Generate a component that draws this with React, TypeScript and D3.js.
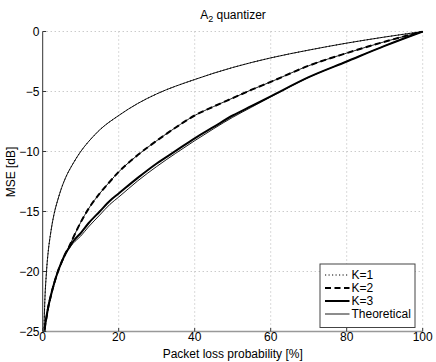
import React from "react";
import * as d3 from "d3";

// ---- data ----
const xTicks = [0, 20, 40, 60, 80, 100];
const yTicks = [-25, -20, -15, -10, -5, 0];

const pK1 = [0.32, 0.5, 1, 1.5, 2, 3, 4, 5, 6, 8, 10, 12, 15, 20, 25, 30, 40, 50, 60, 70, 80, 90, 100];
const k1Sim = [-25, -23, -20, -18.2, -17, -15.2, -14, -13, -12.2, -11, -10, -9.2, -8.2, -7, -6, -5.2, -4, -3, -2.2, -1.55, -0.97, -0.46, 0];
const k1Theory = [-25, -23, -20, -18.2, -17, -15.2, -14, -13, -12.2, -11, -10, -9.2, -8.2, -7, -6, -5.2, -4, -3, -2.2, -1.55, -0.97, -0.46, 0];

const pK = [0.4, 0.5, 1, 1.5, 2, 3, 4, 5, 6, 7, 8, 10, 12, 15, 17.7, 20, 25, 30, 35, 40, 45, 50, 55, 60, 70, 80, 90, 100];
const k2Sim = [-25.6, -25, -23.8, -22.9, -22.2, -21.0, -20.0, -19.2, -18.5, -17.9, -17.2, -15.9, -14.8, -13.5, -12.5, -11.7, -10.3, -9.1, -8.0, -7.0, -6.25, -5.55, -4.85, -4.2, -2.85, -1.8, -0.85, 0];
const k2Theory = [-25.6, -25, -23.8, -22.9, -22.2, -21.0, -20.0, -19.2, -18.5, -17.9, -17.2, -15.9, -14.8, -13.5, -12.5, -11.7, -10.3, -9.1, -8.0, -7.0, -6.25, -5.55, -4.85, -4.2, -2.85, -1.8, -0.85, 0];
const k3Sim = [-25.6, -25, -23.8, -22.9, -22.2, -21.0, -20.0, -19.2, -18.5, -18.0, -17.5, -16.8, -16.0, -15.0, -14.1, -13.5, -12.2, -11.0, -9.95, -8.9, -7.95, -7.0, -6.2, -5.4, -3.8, -2.5, -1.2, 0];
const k3Theory = [-25.6, -25, -23.8, -22.9, -22.2, -21.0, -20.0, -19.2, -18.5, -18.05, -17.65, -17.05, -16.3, -15.3, -14.4, -13.8, -12.45, -11.25, -10.15, -9.1, -8.1, -7.15, -6.3, -5.45, -3.82, -2.5, -1.2, 0];

const legendLabels = ["K=1", "K=2", "K=3", "Theoretical"];

// ---- layout ----
const W = 436, H = 362;
const L = 42.7, T = 31.5, PW = 380, PH = 300;
const FONT = "'Liberation Sans', Arial, Helvetica, sans-serif";

export default function App() {
  const x = d3.scaleLinear().domain([0, 100]).range([L, L + PW]);
  const y = d3.scaleLinear().domain([-25, 0]).range([T + PH, T]);
  const line = (ps: number[], vs: number[]) =>
    d3.line<number>().x((_, i) => x(ps[i])).y((v) => y(v)).curve(d3.curveMonotoneX)(vs) || "";

  const styles = [
    { dash: "1.2,2.3", w: 1 },
    { dash: "6,3.5", w: 2 },
    { dash: "", w: 2 },
    { dash: "", w: 0.9 },
  ];

  const lx0 = 325, lx1 = 349.5, ltx = 351.5;
  const rows = [275, 288, 301, 314];

  return (
    <svg width={W} height={H} style={{ position: "absolute", left: 0, top: 0, background: "#fff" }}
      fontFamily={FONT}>
      <defs>
        <clipPath id="plot">
          <rect x={L} y={T - 1} width={PW + 1} height={PH + 1} />
        </clipPath>
      </defs>
      <rect x={0} y={0} width={W} height={H} fill="#fff" />
      {/* grid */}
      {xTicks.filter((t) => t !== 0).map((t) => (
        <line key={"gx" + t} x1={x(t)} x2={x(t)} y1={T} y2={T + PH} stroke="#b4b4b4" strokeWidth={1} strokeDasharray="1,3" />
      ))}
      {yTicks.filter((t) => t !== -25).map((t) => (
        <line key={"gy" + t} x1={L} x2={L + PW} y1={y(t)} y2={y(t)} stroke="#b4b4b4" strokeWidth={1} strokeDasharray="1,3" />
      ))}
      {/* curves */}
      <g clipPath="url(#plot)" fill="none" stroke="#000" strokeLinejoin="round">
        <path d={line(pK1, k1Theory)} strokeWidth={styles[3].w} />
        <path d={line(pK1, k1Sim)} strokeWidth={styles[0].w} strokeDasharray={styles[0].dash} />
        <path d={line(pK, k2Theory)} strokeWidth={styles[3].w} />
        <path d={line(pK, k2Sim)} strokeWidth={styles[1].w} strokeDasharray={styles[1].dash} />
        <path d={line(pK, k3Sim)} strokeWidth={styles[2].w} />
        <path d={line(pK, k3Theory)} strokeWidth={styles[3].w} />
      </g>
      {/* axes */}
      <line x1={L} x2={L} y1={T} y2={T + PH} stroke="#333" strokeWidth={1} />
      <line x1={L} x2={L + PW} y1={T + PH} y2={T + PH} stroke="#999" strokeWidth={1.6} />
      {xTicks.map((t) => (
        <g key={"xt" + t}>
          <line x1={x(t)} x2={x(t)} y1={T + PH} y2={T + PH - 3.5} stroke="#333" />
          <text x={x(t)} y={341} textAnchor="middle" fontSize={12} fill="#000">{t}</text>
        </g>
      ))}
      {yTicks.map((t) => (
        <g key={"yt" + t}>
          <line x1={L} x2={L + 3.5} y1={y(t)} y2={y(t)} stroke="#333" />
          <text x={39.5} y={y(t) + 4.3} textAnchor="end" fontSize={12} fill="#000">
            {t < 0 ? "\u2212" + Math.abs(t) : String(t)}
          </text>
        </g>
      ))}
      {/* labels */}
      <text x={232.7} y={358} textAnchor="middle" fontSize={12}>Packet loss probability [%]</text>
      <text transform={`translate(15,${172}) rotate(-90)`} textAnchor="middle" fontSize={12}>MSE [dB]</text>
      <text x={233} y={19} textAnchor="middle" fontSize={12}>
        A<tspan fontSize={9} dy={3}>2</tspan><tspan dy={-3}> quantizer</tspan>
      </text>
      {/* legend */}
      <rect x={320} y={264} width={95} height={63.5} fill="#fff" stroke="#444" strokeWidth={1} />
      {legendLabels.map((lab, i) => (
        <g key={lab}>
          <line x1={lx0} x2={lx1} y1={rows[i]} y2={rows[i]} stroke="#000"
            strokeWidth={styles[i].w} strokeDasharray={styles[i].dash || undefined} />
          <text x={ltx} y={rows[i] + 4.3} fontSize={12}>{lab}</text>
        </g>
      ))}
    </svg>
  );
}
